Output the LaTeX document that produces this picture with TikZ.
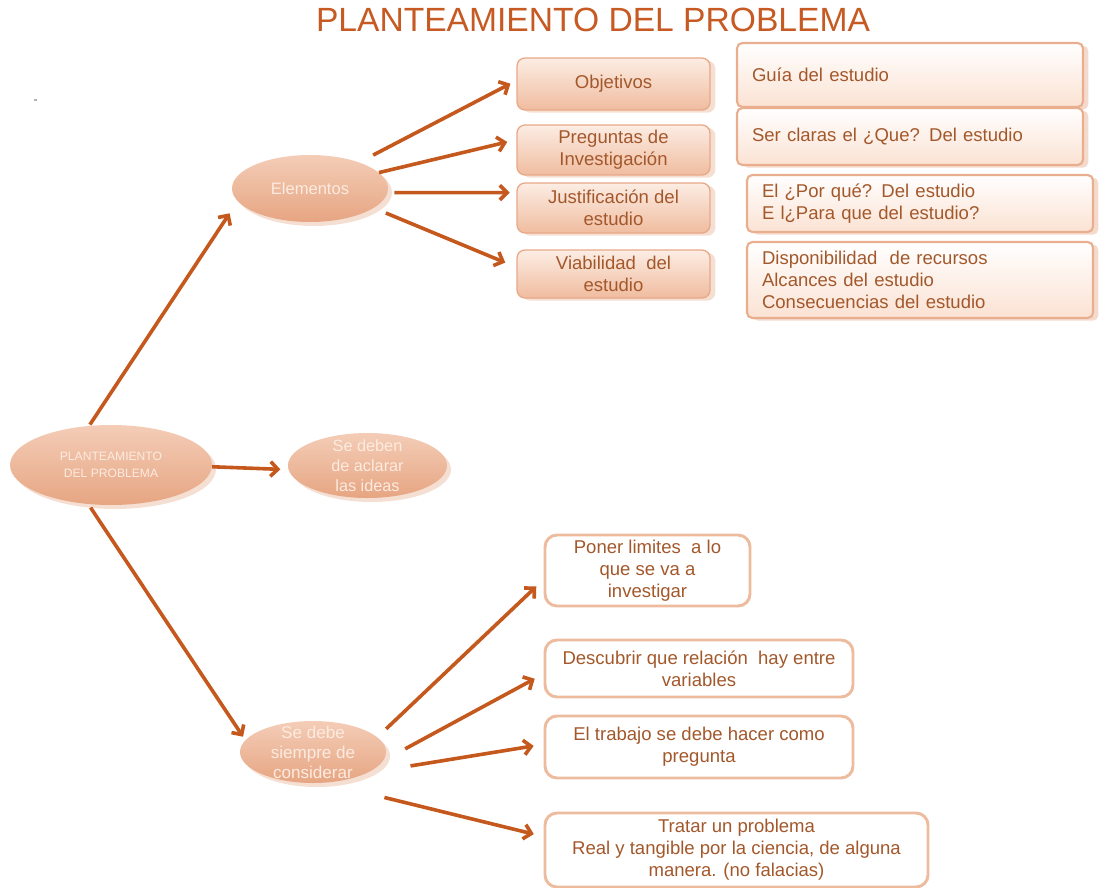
\documentclass[tikz,border=0pt]{standalone}
\usepackage{fontspec}
\setmainfont{Liberation Sans}
\usetikzlibrary{shapes.geometric,arrows.meta,shadows}
\definecolor{arrowC}{HTML}{C5581C}
\definecolor{titleC}{HTML}{C65A22}
\definecolor{ellTop}{HTML}{F4CDB7}
\definecolor{ellBot}{HTML}{E6A582}
\definecolor{ellText}{HTML}{FCEBE0}
\definecolor{midTop}{HTML}{FCEDE4}
\definecolor{midBot}{HTML}{F0BC9F}
\definecolor{midBorder}{HTML}{E8A988}
\definecolor{rBot}{HTML}{FBE2D3}
\definecolor{rBorder}{HTML}{E8AE8E}
\definecolor{lowBorder}{HTML}{EDBB9E}
\definecolor{boxText}{HTML}{A3582B}
\definecolor{shadowC}{HTML}{E6AE8F}
\begin{document}
\begin{tikzpicture}[x=0.75pt,y=-0.75pt,
  ell/.style={ellipse, top color=ellTop, bottom color=ellBot, draw=none,
    text=ellText, align=center, inner sep=-6pt,
    drop shadow={shadow xshift=3pt,shadow yshift=-3pt,fill=shadowC,opacity=0.4}},
  midbox/.style={rectangle, rounded corners=6pt, top color=midTop, bottom color=midBot,
    draw=midBorder, line width=1pt, text=boxText, align=center, inner sep=0pt,
    minimum width=144.75pt, font=\fontsize{13.9}{16.5}\selectfont,
    drop shadow={shadow xshift=4pt,shadow yshift=-2pt,fill=shadowC,opacity=0.4}},
  rbox/.style={rectangle, rounded corners=4pt, top color=white, bottom color=rBot,
    draw=rBorder, line width=1.6pt, text=boxText, align=left, inner xsep=11.25pt,
    inner ysep=0pt, text width=237pt, minimum width=259.5pt,
    font=\fontsize{13.9}{16.5}\selectfont,
    drop shadow={shadow xshift=4pt,shadow yshift=-2pt,fill=shadowC,opacity=0.45}},
  lowbox/.style={rectangle, rounded corners=9pt, fill=white, draw=lowBorder,
    line width=2.2pt, text=boxText, align=center, inner sep=0pt,
    font=\fontsize{13.9}{16.5}\selectfont},
  arr/.style={draw=arrowC, line width=2.7pt,
    -{Straight Barb[length=5.5pt,width=11pt]}}
]
\useasboundingbox (0,0) rectangle (1106,888);

% title
\node[text=titleC, font=\fontsize{25.2}{29}\selectfont] (title) at (593,20) {PLANTEAMIENTO DEL PROBLEMA};

% small speck
\fill[gray!60] (34,99) rectangle (37,101);

% ellipses
\node[ell, minimum width=151.5pt, minimum height=60pt, font=\fontsize{9.1}{13}\selectfont]
  (main) at (111,465) {PLANTEAMIENTO\\DEL PROBLEMA};
\node[ell, minimum width=119.25pt, minimum height=48.75pt, font=\fontsize{12.2}{15}\selectfont]
  (deben) at (367.5,465.5) {Se deben\\de aclarar\\las ideas};
\node[ell, minimum width=117pt, minimum height=50.25pt, font=\fontsize{12.4}{15}\selectfont]
  (elem) at (310,188.5) {Elementos};
\node[ell, minimum width=109.5pt, minimum height=46.5pt, font=\fontsize{12.8}{15}\selectfont]
  (siem) at (313,752) {Se debe\\siempre de\\considerar};

% middle boxes
\node[midbox, minimum height=39pt] (obj) at (613.5,84) {Objetivos};
\node[midbox, minimum height=37.5pt] (preg) at (613.5,150) {Preguntas de\\Investigación};
\node[midbox, minimum height=37.5pt] (just) at (613.5,208) {Justificación del\\estudio};
\node[midbox, minimum height=36pt] (viab) at (613.5,274) {Viabilidad\ \ del\\estudio};

% right boxes
\node[rbox, minimum height=48pt] (guia) at (910,75) {Guía del estudio};
\node[rbox, minimum height=42.75pt] (ser) at (910,136.5) {Ser claras el ¿Que? Del estudio};
\node[rbox, minimum height=42.75pt] (porq) at (920,203.5) {El ¿Por qué? Del estudio\\E l¿Para que del estudio?};
\node[rbox, minimum height=57pt] (disp) at (920,280) {Disponibilidad\ \ de recursos\\Alcances del estudio\\Consecuencias del estudio};

% lower boxes
\node[lowbox, minimum width=153.75pt, minimum height=53.25pt] (poner) at (647.5,570.5) {Poner limites\ \ a lo\\que se va a\\investigar};
\node[lowbox, minimum width=231pt, minimum height=42.75pt] (desc) at (699,668.5) {Descubrir que relación\ \ hay entre\\variables};
\node[lowbox, minimum width=231pt, minimum height=46.5pt] (trab) at (699,747) {El trabajo se debe hacer como\\pregunta};
\node[lowbox, minimum width=287.25pt, minimum height=55.5pt] (tratar) at (736.5,850) {Tratar un problema\\Real y tangible por la ciencia, de alguna\\manera. (no falacias)};

% connectors
\draw[arr, shorten <=1pt, shorten >=10.8pt] (main.119) -- (elem.190);
\draw[arr, shorten >=6pt] (main.-1) -- (deben.183);
\draw[arr, shorten <=3pt, shorten >=3pt] (main.-120) -- (siem.170);

\draw[arr, shorten <=11.7pt, shorten >=5pt] (elem.28) -- (obj.178);
\draw[arr, shorten >=7pt] (elem.13) -- (preg.174);
\draw[arr, shorten <=5pt, shorten >=5pt] (elem.-3) -- (just.171);
\draw[arr, shorten <=9.75pt, shorten >=9pt] (elem.-17) -- (viab.176);

\draw[arr, shorten <=9pt, shorten >=7.5pt] (siem.13) -- (poner.185);
\draw[arr, shorten <=18.6pt, shorten >=7.5pt] (siem.-7) -- (desc.182);
\draw[arr, shorten <=32.7pt, shorten >=7.5pt] (siem.-21) -- (trab.179);
\draw[arr, shorten <=46pt, shorten >=7.5pt] (siem.-69) -- (tratar.176);
\end{tikzpicture}
\end{document}
